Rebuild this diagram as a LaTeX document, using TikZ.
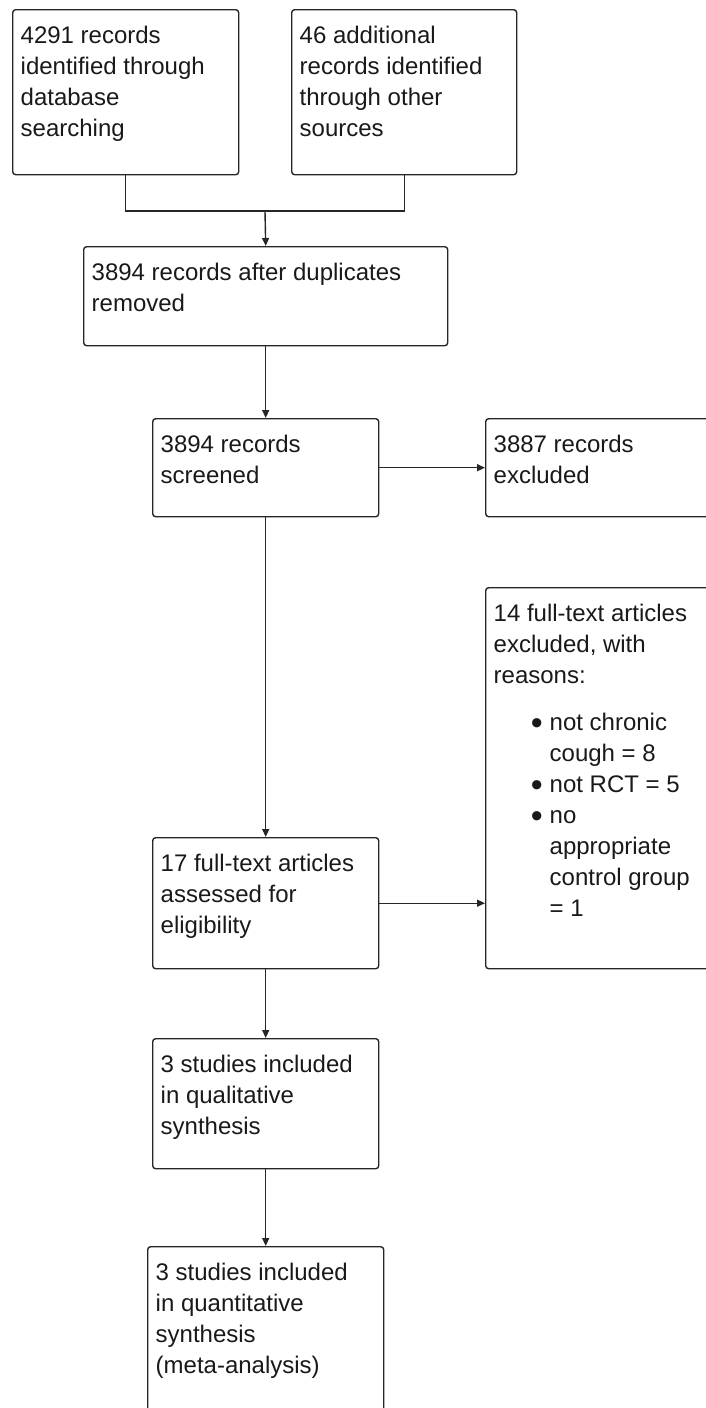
\documentclass[tikz,border=0pt]{standalone}
\usepackage{fontspec}
\setmainfont{Liberation Sans}
\usetikzlibrary{arrows.meta}
\newcommand{\boxtext}[3]{\parbox[t][#2][t]{#1}{\raggedright\rule{0pt}{22pt}#3}}
\newcommand{\reasonitem}{\leavevmode\llap{{\fontsize{34pt}{31pt}\selectfont\raisebox{-3.5pt}{\textbullet}}\hspace{7pt}}}

\begin{document}
\begin{tikzpicture}[x=1pt,y=-1pt,
  flowbox/.style={draw=black!85,line width=1.4pt,rounded corners=3pt,anchor=north west,
    inner xsep=8pt,inner ysep=12pt,text=black!90,font=\fontsize{24pt}{31pt}\selectfont},
  flowarrow/.style={draw=black!85,line width=1.4pt,-{Triangle[length=8pt,width=7pt]}},
  flowline/.style={draw=black!85,line width=1.4pt}]
 \useasboundingbox (0,0) rectangle (706,1408);
 \clip (0,0) rectangle (706,1408);
 \node[flowbox] (database) at (12,9) {\boxtext{210pt}{141pt}{4291 records\\identified through\\database\\searching}};
 \node[flowbox] (other) at (291,9) {\boxtext{209pt}{141pt}{46 additional\\records identified\\through other\\sources}};
 \node[flowbox] (dedup) at (83,246) {\boxtext{348pt}{75pt}{3894 records after duplicates\\removed}};
 \node[flowbox] (screened) at (152,418) {\boxtext{210pt}{74pt}{3894 records\\screened}};
 \node[flowbox] (excluded) at (485,418) {\boxtext{211pt}{74pt}{3887 records\\excluded}};
 \node[flowbox] (fulltext) at (152,837) {\boxtext{210pt}{107pt}{17 full-text articles\\assessed for\\eligibility}};
 \node[flowbox] (reasons) at (485,587) {\boxtext{211pt}{357pt}{14 full-text articles\\excluded, with\\reasons:\par
   \vspace{16pt}\leftskip=56pt
   \reasonitem not chronic\\cough = 8\\
   \reasonitem not RCT = 5\\
   \reasonitem no\\appropriate\\control group\\= 1}};
 \node[flowbox] (qualitative) at (152,1038) {\boxtext{210pt}{106pt}{3 studies included\\in qualitative\\synthesis}};
 \node[flowbox] (quantitative) at (147,1246) {\boxtext{220pt}{160pt}{3 studies included\\in quantitative\\synthesis\\(meta-analysis)}};
 \coordinate (merge) at (265,211);
 \draw[flowline] (database.south) |- (merge) -| (other.south);
 \draw[flowarrow] (merge) -- (dedup.north);
 \draw[flowarrow] (dedup) -- (screened);
 \draw[flowarrow] (screened) -- (excluded);
 \draw[flowarrow] (screened) -- (fulltext);
 \draw[flowarrow] (fulltext.east) -- (fulltext.east -| reasons.west);
 \draw[flowarrow] (fulltext) -- (qualitative);
 \draw[flowarrow] (qualitative) -- (quantitative);
\end{tikzpicture}
\end{document}
